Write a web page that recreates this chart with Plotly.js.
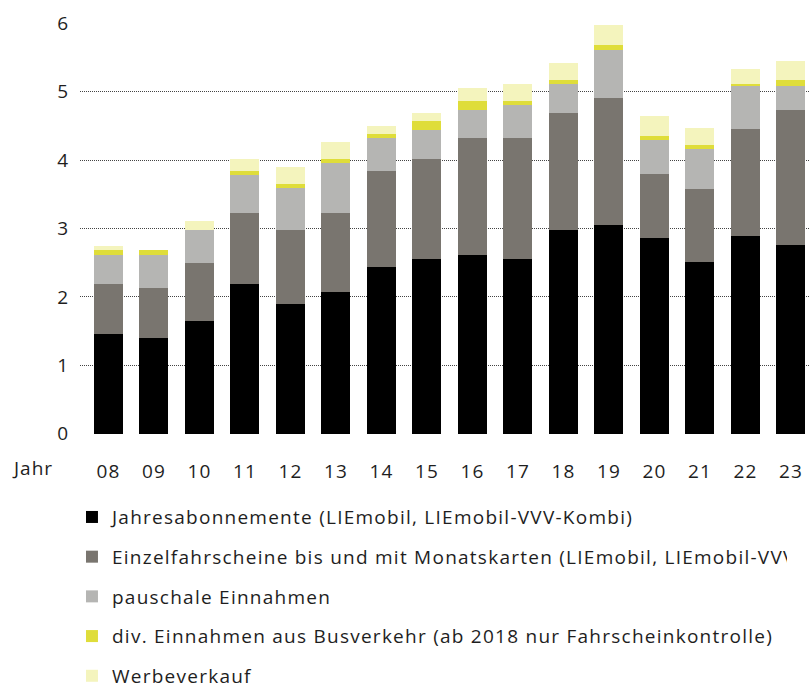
<!DOCTYPE html>
<html>
<head>
<meta charset="utf-8">
<script src="https://cdn.plot.ly/plotly-3.0.1.min.js"></script>
<style>
html,body{margin:0;padding:0;overflow:hidden;background:#fff;width:810px;height:688px;}
#chart{width:900px;height:688px;}
#chart text{letter-spacing:1px;}
#chart text.legendtext{letter-spacing:1.25px;}
</style>
</head>
<body>
<div id="chart"></div>
<script>
var years = ["08","09","10","11","12","13","14","15","16","17","18","19","20","21","22","23"];
var jahresabo = [1.46,1.40,1.65,2.19,1.90,2.07,2.44,2.55,2.61,2.55,2.98,3.05,2.86,2.51,2.89,2.76];
var einzel    = [0.73,0.73,0.85,1.04,1.08,1.16,1.40,1.46,1.71,1.77,1.71,1.86,0.94,1.07,1.56,1.98];
var pauschal  = [0.42,0.48,0.48,0.55,0.61,0.73,0.48,0.43,0.42,0.48,0.42,0.70,0.49,0.58,0.64,0.35];
var divBus    = [0.08,0.08,0.00,0.06,0.06,0.05,0.06,0.13,0.12,0.06,0.06,0.07,0.06,0.06,0.03,0.08];
var werbe     = [0.05,0.00,0.13,0.17,0.25,0.25,0.12,0.12,0.19,0.25,0.25,0.29,0.29,0.25,0.21,0.28];

var names = [
  "Jahresabonnemente (LIEmobil, LIEmobil-VVV-Kombi)",
  "Einzelfahrscheine bis und mit Monatskarten (LIEmobil, LIEmobil-VVV-Kombi)",
  "pauschale Einnahmen",
  "div. Einnahmen aus Busverkehr (ab 2018 nur Fahrscheinkontrolle)",
  "Werbeverkauf"
];
var series = [jahresabo, einzel, pauschal, divBus, werbe];
var colors = ["#000000", "#79756f", "#b5b5b3", "#dfdd3a", "#f4f4bd"];

var traces = series.map(function(vals, i){
  return {
    type: "bar",
    x: years,
    y: vals,
    name: names[i],
    legendgroup: "g" + i,
    marker: {color: colors[i], line: {width: 0}},
    hoverinfo: "y+name"
  };
});

var txt = "#1e1e1e";
var layout = {
  width: 900,
  height: 688,
  margin: {l: 80, r: 90, t: 23, b: 254, autoexpand: false},
  barmode: "stack",
  bargap: 0.363,
  paper_bgcolor: "#ffffff",
  plot_bgcolor: "#ffffff",
  font: {family: "Open Sans, sans-serif", size: 19, color: txt},
  showlegend: true,
  legend: {
    orientation: "v",
    traceorder: "grouped",
    tracegroupgap: 12,
    x: -0.011, xanchor: "left",
    y: -0.156, yanchor: "top",
    font: {family: "Open Sans, sans-serif", size: 19, color: txt},
    bgcolor: "rgba(0,0,0,0)"
  },
  xaxis: {
    type: "category",
    range: [-0.626, 15.42],
    showgrid: false,
    zeroline: false,
    showline: false,
    ticks: "outside",
    ticklen: 20,
    tickcolor: "rgba(0,0,0,0)",
    tickfont: {size: 19, color: txt}
  },
  yaxis: {
    range: [-0.005, 6.005],
    tickvals: [0,1,2,3,4,5,6],
    ticktext: ["0","1","2","3","4","5","6"],
    showgrid: true,
    gridcolor: "#444444",
    gridwidth: 1,
    griddash: "1px,1px",
    zeroline: false,
    showline: false,
    ticks: "outside",
    ticklen: 6,
    tickcolor: "rgba(0,0,0,0)",
    tickfont: {size: 19, color: txt}
  },
  annotations: [{
    text: "Jahr",
    xref: "paper", yref: "paper",
    x: -0.093, xanchor: "left",
    y: -0.083, yanchor: "middle",
    showarrow: false,
    font: {size: 19, color: txt}
  }]
};

Plotly.newPlot("chart", traces, layout, {displayModeBar: false, staticPlot: true});
</script>
</body>
</html>
